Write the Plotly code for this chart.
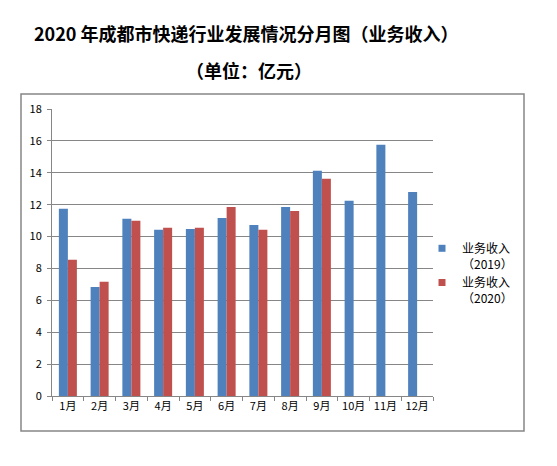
import plotly.graph_objects as go

months = ["1月", "2月", "3月", "4月", "5月", "6月", "7月", "8月", "9月", "10月", "11月", "12月"]
rev_2019 = [11.74, 6.84, 11.11, 10.42, 10.48, 11.17, 10.73, 11.86, 14.12, 12.24, 15.76, 12.80]
rev_2020 = [8.54, 7.16, 10.99, 10.55, 10.55, 11.86, 10.42, 11.61, 13.62, None, None, None]
name_2019 = "业务收入<br>（2019）"
name_2020 = "业务收入<br>（2020）"
y_ticks = [0, 2, 4, 6, 8, 10, 12, 14, 16, 18]

blue = "#4F81BD"
red = "#C0504D"
grid = "#868686"
font_fam = "Noto Sans CJK SC, DejaVu Sans, sans-serif"

fig = go.Figure()
fig.add_trace(go.Bar(x=months, y=rev_2019, marker=dict(color=blue, line=dict(width=0)),
                     showlegend=False, hoverinfo="y"))
fig.add_trace(go.Bar(x=months, y=rev_2020, marker=dict(color=red, line=dict(width=0)),
                     showlegend=False, hoverinfo="y"))
# legend entries with small square swatches
fig.add_trace(go.Scatter(x=[None], y=[None], mode="markers", name=name_2019,
                         marker=dict(symbol="square", size=7, color=blue)))
fig.add_trace(go.Scatter(x=[None], y=[None], mode="markers", name=name_2020,
                         marker=dict(symbol="square", size=7, color=red)))

OFF = 8  # page body margin
W, H = 557 - 2 * OFF, 466 - 2 * OFF
L = 52 - OFF
T = 109 - OFF
R = W - (433 - OFF)
B = H - (396 - OFF)
pw = W - L - R
ph = H - T - B

def px(x):
    return (x - OFF - L) / pw

def py(y):
    return (H - B - (y - OFF)) / ph

fig.update_layout(
    width=W, height=H,
    margin=dict(l=L, r=R, t=T, b=B, autoexpand=False),
    paper_bgcolor="white", plot_bgcolor="white",
    barmode="group", bargap=0.433, bargroupgap=0,
    font=dict(family=font_fam, size=11, color="#000000"),
    showlegend=True,
    legend=dict(x=px(422), y=py(234), xanchor="left", yanchor="top",
                valign="top", itemwidth=30, tracegroupgap=4,
                font=dict(size=12, color="#000000"),
                bgcolor="rgba(0,0,0,0)"),
    xaxis=dict(type="category", showline=True, linecolor=grid, linewidth=1,
               ticks="outside", tickson="boundaries", ticklen=4, tickcolor=grid,
               showgrid=False, tickangle=0, tickfont=dict(size=11, color="#000000"),
               fixedrange=True),
    yaxis=dict(range=[0, 18], tickvals=y_ticks, showline=True, linecolor=grid, linewidth=1,
               ticks="outside", ticklen=4, tickcolor=grid, showgrid=True, gridcolor=grid,
               gridwidth=1, zeroline=False, ticklabelstandoff=3,
               tickfont=dict(size=11, color="#000000"), fixedrange=True),
    shapes=[dict(type="rect", xref="paper", yref="paper",
                 x0=px(21), x1=px(524), y0=py(431), y1=py(94),
                 line=dict(color=grid, width=1.5), fillcolor="rgba(0,0,0,0)", layer="below")],
    annotations=[
        dict(text="<b>2020 年成都市快递行业发展情况分月图（业务收入）</b>", xref="paper", yref="paper",
             x=px(246), y=py(33), xanchor="center", yanchor="middle", showarrow=False,
             font=dict(size=18, color="#000000", family=font_fam)),
        dict(text="<b>（单位：亿元）</b>", xref="paper", yref="paper",
             x=px(249), y=py(70), xanchor="center", yanchor="middle", showarrow=False,
             font=dict(size=18, color="#000000", family=font_fam)),
    ],
)

fig.write_html("out.html")
